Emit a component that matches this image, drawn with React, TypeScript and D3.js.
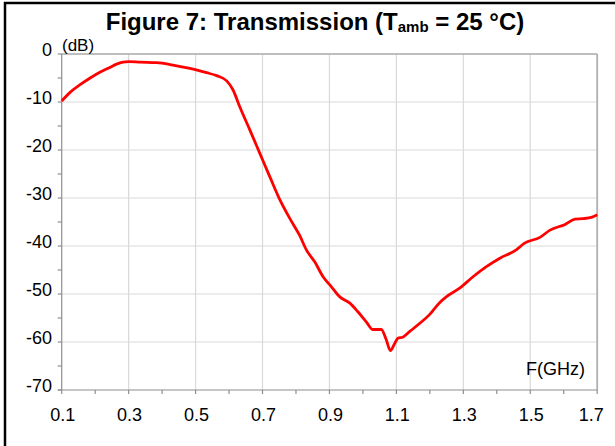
import React from "react";
import * as d3 from "d3";

const freqGHz = [
  0.1, 0.125, 0.155, 0.185, 0.214, 0.244, 0.264, 0.283, 0.3, 0.334, 0.384, 0.432, 0.483, 0.533, 0.563,
  0.593, 0.612, 0.632, 0.662, 0.692, 0.722, 0.752, 0.781, 0.811, 0.831, 0.856, 0.881, 0.906,
  0.931, 0.961, 0.985, 1.01, 1.03, 1.055, 1.07, 1.082, 1.095, 1.105, 1.119, 1.14, 1.17, 1.199,
  1.229, 1.249, 1.289, 1.329, 1.369, 1.408, 1.458, 1.483, 1.529, 1.559, 1.604, 1.634, 1.657,
  1.685, 1.7,
];
const transmissionDb = [
  -9.8, -8.0, -6.4, -5.0, -3.8, -2.8, -2.1, -1.7, -1.6, -1.7, -1.8, -2.3, -3.0, -3.9, -4.5,
  -5.6, -7.5, -11.0, -15.8, -20.7, -25.6, -30.4, -34.2, -37.8, -40.8, -43.3, -46.4, -48.5,
  -50.6, -51.9, -53.7, -55.8, -57.4, -57.4, -59.6, -61.8, -60.3, -59.2, -59.0, -57.8, -56.1, -54.3,
  -51.8, -50.6, -48.8, -46.4, -44.3, -42.6, -40.8, -39.4, -38.2, -36.7, -35.5, -34.4, -34.3,
  -34.0, -33.5,
];
const xTickLabels = [0.1, 0.3, 0.5, 0.7, 0.9, 1.1, 1.3, 1.5, 1.7];
const xMinorTicks = d3.range(0, 17).map((i) => +(0.1 + i * 0.1).toFixed(2));
const yTickLabels = [0, -10, -20, -30, -40, -50, -60, -70];
const yMinorTicks = d3.range(0, 15).map((i) => -i * 5);

const W = 615;
const H = 446;
const left = 61.7;
const right = 597.2;
const top = 54;
const bottom = 390;

export default function App() {
  const x = d3.scaleLinear().domain([0.1, 1.7]).range([left, right]);
  const y = d3.scaleLinear().domain([-70, 0]).range([bottom, top]);
  const pts: [number, number][] = freqGHz.map((f, i) => [f, transmissionDb[i]]);
  const line = d3
    .line<[number, number]>()
    .x((d) => x(d[0]))
    .y((d) => y(d[1]))
    .curve(d3.curveMonotoneX);
  const font = "'Liberation Sans', Arial, sans-serif";
  const gridColor = "#d9d9d9";
  const axisColor = "#8e8e8e";
  return (
    <svg
      width={W}
      height={H}
      style={{ position: "absolute", left: 0, top: 0, background: "#fff" }}
      fontFamily={font}
    >
      <rect x={0} y={0} width={W} height={H} fill="#fff" />
      {/* frame */}
      <line x1={5} x2={5} y1={2} y2={H} stroke="#000" strokeWidth={2.5} />
      <line x1={4} x2={W} y1={3} y2={3} stroke="#000" strokeWidth={2.5} />
      {/* title */}
      <text x={315} y={30} textAnchor="middle" fontSize={24} fontWeight="bold" fill="#000">
        Figure 7: Transmission (T
        <tspan fontSize={15} dy={2}>amb</tspan>
        <tspan dy={-2}> = 25 °C)</tspan>
      </text>
      {/* grid */}
      {yTickLabels.slice(1, -1).map((v) => (
        <line key={"gy" + v} x1={left} x2={right} y1={y(v)} y2={y(v)} stroke={gridColor} strokeWidth={1.2} />
      ))}
      {xTickLabels.slice(1, -1).map((v) => (
        <line key={"gx" + v} x1={x(v)} x2={x(v)} y1={top} y2={bottom} stroke={gridColor} strokeWidth={1.2} />
      ))}
      {/* plot frame top/right */}
      <line x1={left} x2={right} y1={top} y2={top} stroke="#a8a8a8" strokeWidth={1.6} />
      <line x1={right} x2={right} y1={top} y2={bottom} stroke="#b0b0b0" strokeWidth={1.8} />
      {/* axes */}
      <line x1={left} x2={left} y1={top} y2={bottom} stroke={axisColor} strokeWidth={1.2} />
      <line x1={left - 4} x2={right} y1={bottom} y2={bottom} stroke={axisColor} strokeWidth={1.2} />
      {yMinorTicks.map((v) => (
        <line key={"ty" + v} x1={left - 4} x2={left} y1={y(v)} y2={y(v)} stroke={axisColor} strokeWidth={1.2} />
      ))}
      {xMinorTicks.map((v) => (
        <line key={"tx" + v} x1={x(v)} x2={x(v)} y1={bottom} y2={bottom + 4} stroke={axisColor} strokeWidth={1.2} />
      ))}
      {/* y labels */}
      {yTickLabels.map((v) => (
        <text key={"ly" + v} x={52} y={y(v) - 3} textAnchor="end" dominantBaseline="middle" fontSize={18} fill="#000">
          {v}
        </text>
      ))}
      {/* x labels */}
      {xTickLabels.map((v, i) => (
        <text
          key={"lx" + v}
          x={i === xTickLabels.length - 1 ? x(v) - 6 : x(v) + 1}
          y={421}
          textAnchor="middle"
          fontSize={18}
          fill="#000"
        >
          {v.toFixed(1)}
        </text>
      ))}
      <text x={62} y={51} fontSize={17} fill="#000">(dB)</text>
      <text x={585} y={375} textAnchor="end" fontSize={18} fill="#000">F(GHz)</text>
      {/* curve */}
      <path d={line(pts) || ""} fill="none" stroke="#ff0000" strokeWidth={2.8} strokeLinejoin="round" />
    </svg>
  );
}
